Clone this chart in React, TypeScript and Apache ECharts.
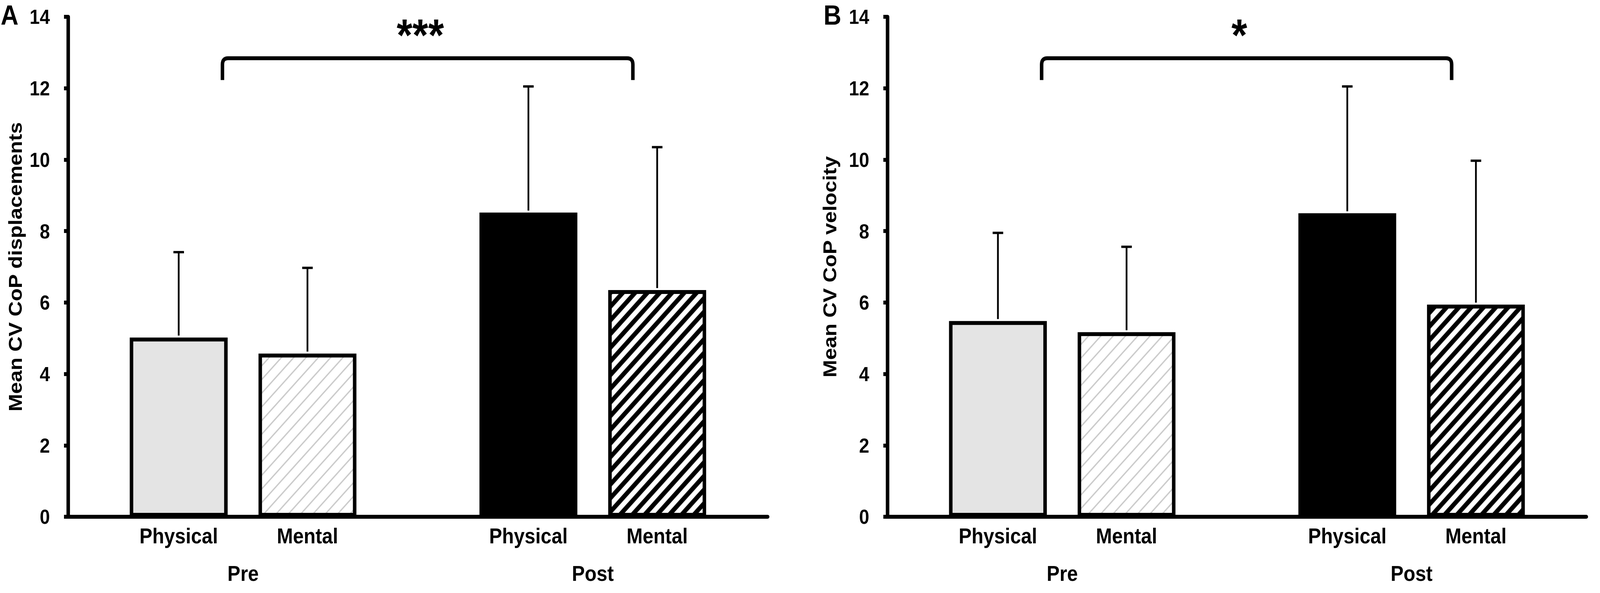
import React, { useEffect, useRef } from "react";
import * as echarts from "echarts";

// ---- data ----
const groups = ["Pre", "Post"];
const conditions = ["Physical", "Mental"];
const panelLetters = ["A", "B"];
const panelTitles = ["Mean CV CoP displacements", "Mean CV CoP velocity"];
const significance = ["***", "*"];

// Panel A : Mean CV CoP displacements (mean and upper end of the error bar)
const dispPhysicalMean = [5.02, 8.52];
const dispMentalMean = [4.57, 6.35];
const dispPhysicalUpper = [7.41, 12.05];
const dispMentalUpper = [6.97, 10.35];

// Panel B : Mean CV CoP velocity
const velPhysicalMean = [5.48, 8.5];
const velMentalMean = [5.17, 5.94];
const velPhysicalUpper = [7.95, 12.05];
const velMentalUpper = [7.56, 9.97];

// y axis
const Y_MIN = 0;
const Y_MAX = 14;
const Y_STEP = 2;

// significance bracket levels (data units)
const bracketTop = [12.84, 12.84];
const bracketLeg = [12.23, 12.23];
const sigLabelLevel = [13.5, 13.5];

// ---- styling ----
const DESIGN_W = 4550;
const DESIGN_H = 1517;
const FONT = '"Liberation Sans", Arial, sans-serif';
const BAR_WIDTH_FRAC = 0.28;
const BAR_GAP_FRAC = 0.315;
const OFFSET_FRAC = (BAR_WIDTH_FRAC * (1 + BAR_GAP_FRAC)) / 2;
const BRACKET_LEFT_FRAC = -0.059;
const BRACKET_RIGHT_FRAC = 0.1146;
const SIG_SHIFT_FRAC = -0.021;

function hatch(bg: string, stroke: string, lw: number, s: number) {
  const c = document.createElement("canvas");
  c.width = s;
  c.height = s;
  const ctx = c.getContext("2d")!;
  ctx.fillStyle = bg;
  ctx.fillRect(0, 0, s, s);
  ctx.strokeStyle = stroke;
  ctx.lineWidth = lw;
  ctx.lineCap = "square";
  ctx.beginPath();
  for (let k = -1; k <= 1; k++) {
    ctx.moveTo(k * s, s);
    ctx.lineTo(k * s + s, 0);
  }
  ctx.stroke();
  return c;
}

export default function App() {
  const ref = useRef<HTMLDivElement>(null);
  const kx = typeof window !== "undefined" && window.innerWidth ? window.innerWidth / DESIGN_W : 1;
  const ky = typeof window !== "undefined" && window.innerHeight ? window.innerHeight / DESIGN_H : 1;

  useEffect(() => {
    if (!ref.current) return;
    const chart = echarts.init(ref.current, null, { renderer: "svg", width: DESIGN_W, height: DESIGN_H });

    const lightHatch = { image: hatch("#ffffff", "#c9c9c9", 3.5, 35), repeat: "repeat" };
    const darkHatch = { image: hatch("#ffffff", "#000000", 12, 35), repeat: "repeat" };
    const physicalFill = ["#e4e4e4", "#000000"];
    const mentalFill: any[] = [lightHatch, darkHatch];

    const panels = [
      {
        phys: dispPhysicalMean,
        ment: dispMentalMean,
        physUp: dispPhysicalUpper,
        mentUp: dispMentalUpper,
        grid: { left: 194, right: 2367, top: 43, bottom: 195 },
        nameGap: 124,
      },
      {
        phys: velPhysicalMean,
        ment: velMentalMean,
        physUp: velPhysicalUpper,
        mentUp: velMentalUpper,
        grid: { left: 2524, right: 39, top: 43, bottom: 195 },
        nameGap: 138,
      },
    ];

    const grids: any[] = [];
    const xAxes: any[] = [];
    const yAxes: any[] = [];
    const series: any[] = [];

    panels.forEach((p, i) => {
      grids.push({ ...p.grid, containLabel: false, outerBoundsMode: "none" });
      xAxes.push({
        type: "category",
        gridIndex: i,
        data: groups,
        axisLine: { show: true, lineStyle: { color: "#000", width: 10 } },
        axisTick: { show: false },
        axisLabel: {
          color: "#000",
          fontSize: 55,
          fontWeight: "bold",
          fontFamily: FONT,
          margin: 118,
        },
        splitLine: { show: false },
      });
      yAxes.push({
        type: "value",
        gridIndex: i,
        min: Y_MIN,
        max: Y_MAX,
        interval: Y_STEP,
        name: panelTitles[i],
        nameLocation: "middle",
        nameGap: p.nameGap,
        nameTextStyle: { color: "#000", fontSize: 54, fontWeight: "bold", fontFamily: FONT },
        axisLine: { show: true, lineStyle: { color: "#000", width: 10 } },
        axisTick: { show: true, inside: false, length: 12, lineStyle: { color: "#000", width: 10 } },
        axisLabel: { color: "#000", fontSize: 52, fontWeight: "bold", fontFamily: FONT, margin: 52 },
        splitLine: { show: false },
      });

      const barLabel = (name: string) => ({
        show: true,
        position: ["50%", "100%"],
        align: "center",
        verticalAlign: "top",
        offset: [0, 22],
        formatter: () => name,
        color: "#000",
        fontSize: 55,
        fontWeight: "bold",
        fontFamily: FONT,
      });

      series.push({
        type: "bar",
        name: conditions[0],
        xAxisIndex: i,
        yAxisIndex: i,
        barWidth: BAR_WIDTH_FRAC * 100 + "%",
        barGap: BAR_GAP_FRAC * 100 + "%",
        data: p.phys.map((v, k) => ({ value: v, itemStyle: { color: physicalFill[k] } })),
        itemStyle: { borderColor: "#000", borderWidth: 10 },
        label: barLabel(conditions[0]),
        z: 2,
      });
      series.push({
        type: "bar",
        name: conditions[1],
        xAxisIndex: i,
        yAxisIndex: i,
        barWidth: BAR_WIDTH_FRAC * 100 + "%",
        barGap: BAR_GAP_FRAC * 100 + "%",
        data: p.ment.map((v, k) => ({ value: v, itemStyle: { color: mentalFill[k] } })),
        itemStyle: { borderColor: "#000", borderWidth: 10 },
        label: barLabel(conditions[1]),
        z: 2,
      });

      // error bars
      const errData: number[][] = [];
      p.phys.forEach((v, k) => errData.push([k, v, p.physUp[k], -1]));
      p.ment.forEach((v, k) => errData.push([k, v, p.mentUp[k], 1]));
      series.push({
        type: "custom",
        xAxisIndex: i,
        yAxisIndex: i,
        data: errData,
        z: 3,
        silent: true,
        renderItem: (params: any, api: any) => {
          const cat = api.value(0);
          const band = api.size([1, 0])[0];
          const base = api.coord([cat, api.value(1)]);
          const top = api.coord([cat, api.value(2)]);
          const x = base[0] + api.value(3) * OFFSET_FRAC * band;
          return {
            type: "group",
            children: [
              {
                type: "line",
                shape: { x1: x, y1: base[1] - 5, x2: x, y2: top[1] },
                style: { stroke: "#000", lineWidth: 5 },
              },
              {
                type: "line",
                shape: { x1: x - 15, y1: top[1], x2: x + 15, y2: top[1] },
                style: { stroke: "#000", lineWidth: 6 },
              },
            ],
          };
        },
      });

      // significance bracket
      series.push({
        type: "custom",
        xAxisIndex: i,
        yAxisIndex: i,
        data: [[0, bracketTop[i], bracketLeg[i], sigLabelLevel[i]]],
        z: 4,
        silent: true,
        renderItem: (params: any, api: any) => {
          const band = api.size([1, 0])[0];
          const pre = api.coord([0, api.value(1)]);
          const post = api.coord([1, api.value(1)]);
          const legY = api.coord([0, api.value(2)])[1];
          const sigY = api.coord([0, api.value(3)])[1];
          const xl = pre[0] + BRACKET_LEFT_FRAC * band;
          const xr = post[0] + BRACKET_RIGHT_FRAC * band;
          const yt = pre[1];
          const r = 16;
          const d =
            `M ${xl} ${legY} L ${xl} ${yt + r} Q ${xl} ${yt} ${xl + r} ${yt} ` +
            `L ${xr - r} ${yt} Q ${xr} ${yt} ${xr} ${yt + r} L ${xr} ${legY}`;
          return {
            type: "group",
            children: [
              {
                type: "path",
                shape: { pathData: d },
                style: { fill: "none", stroke: "#000", lineWidth: 10, lineJoin: "round" },
              },
              {
                type: "text",
                style: {
                  text: significance[i],
                  x: (xl + xr) / 2 + SIG_SHIFT_FRAC * band,
                  y: sigY,
                  align: "center",
                  verticalAlign: "middle",
                  fontSize: 115,
                  fontWeight: "bold",
                  fontFamily: FONT,
                  fill: "#000",
                },
              },
            ],
          };
        },
      });
    });

    chart.setOption({
      animation: false,
      backgroundColor: "#ffffff",
      grid: grids,
      xAxis: xAxes,
      yAxis: yAxes,
      series,
      graphic: [
        {
          type: "text",
          left: 2,
          top: 4,
          style: { text: panelLetters[0], fontSize: 70, fontWeight: "bold", fontFamily: FONT, fill: "#000" },
        },
        {
          type: "text",
          left: 2342,
          top: 4,
          style: { text: panelLetters[1], fontSize: 70, fontWeight: "bold", fontFamily: FONT, fill: "#000" },
        },
      ],
    });

    return () => chart.dispose();
  }, []);

  return (
    <div
      style={{
        position: "fixed",
        left: 0,
        top: 0,
        width: "100vw",
        height: "100vh",
        overflow: "hidden",
        background: "#fff",
      }}
    >
      <div
        ref={ref}
        style={{
          position: "absolute",
          left: 0,
          top: 0,
          width: DESIGN_W,
          height: DESIGN_H,
          transform: `scale(${kx}, ${ky})`,
          transformOrigin: "0 0",
        }}
      />
    </div>
  );
}
